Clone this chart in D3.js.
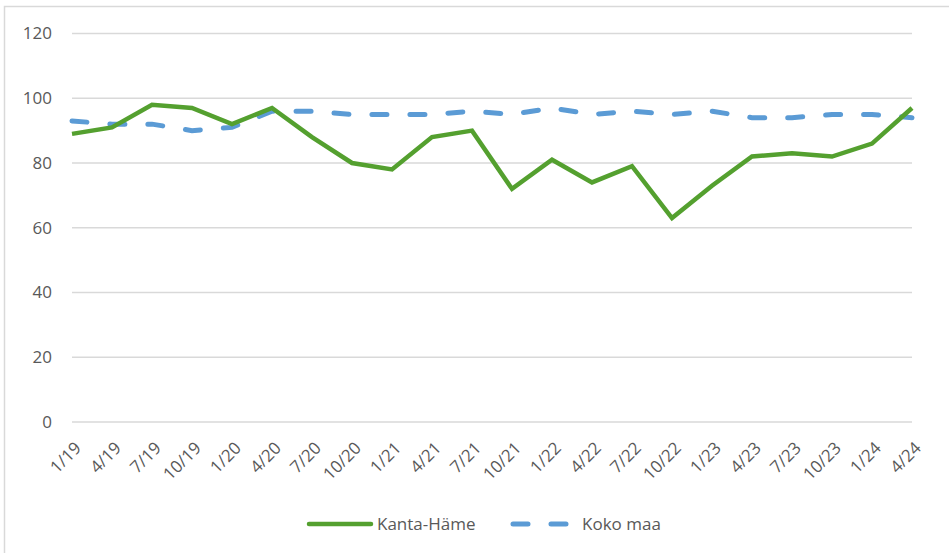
<!DOCTYPE html>
<html>
<head>
<meta charset="utf-8">
<script src="https://cdn.jsdelivr.net/npm/d3@7"></script>
<style>
  body { margin: 0; background: #fff; }
  svg { display: block; font-family: "Open Sans", "Liberation Sans", sans-serif; }
</style>
</head>
<body>
<svg width="949" height="553"></svg>
<script>
// quarter labels along the x axis
const quarters = ["1/19", "4/19", "7/19", "10/19", "1/20", "4/20", "7/20", "10/20",
  "1/21", "4/21", "7/21", "10/21", "1/22", "4/22", "7/22", "10/22",
  "1/23", "4/23", "7/23", "10/23", "1/24", "4/24"];

const kantaHame = [89, 91, 98, 97, 92, 97, 88, 80, 78, 88, 90, 72, 81, 74, 79, 63, 73, 82, 83, 82, 86, 97];
const kokoMaa = [93, 92, 92, 90, 91, 96, 96, 95, 95, 95, 96, 95, 97, 95, 96, 95, 96, 94, 94, 95, 95, 94];

const yTicks = [0, 20, 40, 60, 80, 100, 120];

const svg = d3.select("svg");
const fs = 17;

// chart frame
svg.append("rect")
  .attr("x", 4.5).attr("y", 6.5)
  .attr("width", 960).attr("height", 560)
  .attr("fill", "none")
  .attr("stroke", "#d9d9d9")
  .attr("stroke-width", 1.5);

const x = d3.scalePoint()
  .domain(quarters)
  .range([72, 912]);

const y = d3.scaleLinear()
  .domain([0, 120])
  .range([422, 33.5]);

// gridlines
svg.append("g")
  .selectAll("line")
  .data(yTicks)
  .join("line")
  .attr("x1", 72).attr("x2", 912)
  .attr("y1", d => y(d)).attr("y2", d => y(d))
  .attr("stroke", "#d9d9d9")
  .attr("stroke-width", 1.3);

// y labels
svg.append("g")
  .selectAll("text")
  .data(yTicks)
  .join("text")
  .attr("x", 52)
  .attr("y", d => y(d))
  .attr("dy", "0.35em")
  .attr("text-anchor", "end")
  .attr("fill", "#595959")
  .attr("font-size", fs)
  .text(d => d);

// x labels, rotated
svg.append("g")
  .selectAll("text")
  .data(quarters)
  .join("text")
  .attr("transform", d => `translate(${x(d) + 6},${445}) rotate(-45)`)
  .attr("text-anchor", "end")
  .attr("dy", "0.35em")
  .attr("fill", "#595959")
  .attr("font-size", fs)
  .text(d => d);

const line = d3.line()
  .x((d, i) => x(quarters[i]))
  .y(d => y(d));

svg.append("path")
  .datum(kokoMaa)
  .attr("d", line)
  .attr("fill", "none")
  .attr("stroke", "#5b9bd5")
  .attr("stroke-width", 5)
  .attr("stroke-linecap", "round")
  .attr("stroke-dasharray", "15,23");

svg.append("path")
  .datum(kantaHame)
  .attr("d", line)
  .attr("fill", "none")
  .attr("stroke", "#54a02f")
  .attr("stroke-width", 4.5)
  .attr("stroke-linejoin", "miter");

// legend
const legend = svg.append("g").attr("font-size", fs).attr("fill", "#595959");

legend.append("line")
  .attr("x1", 309).attr("x2", 371).attr("y1", 524).attr("y2", 524)
  .attr("stroke", "#54a02f").attr("stroke-width", 4.5).attr("stroke-linecap", "round");
legend.append("text").attr("x", 377).attr("y", 524).attr("dy", "0.35em").text("Kanta-Häme");

legend.append("line")
  .attr("x1", 513).attr("x2", 568).attr("y1", 524).attr("y2", 524)
  .attr("stroke", "#5b9bd5").attr("stroke-width", 5)
  .attr("stroke-linecap", "round").attr("stroke-dasharray", "15,23");
legend.append("text").attr("x", 582).attr("y", 524).attr("dy", "0.35em").text("Koko maa");
</script>
</body>
</html>
